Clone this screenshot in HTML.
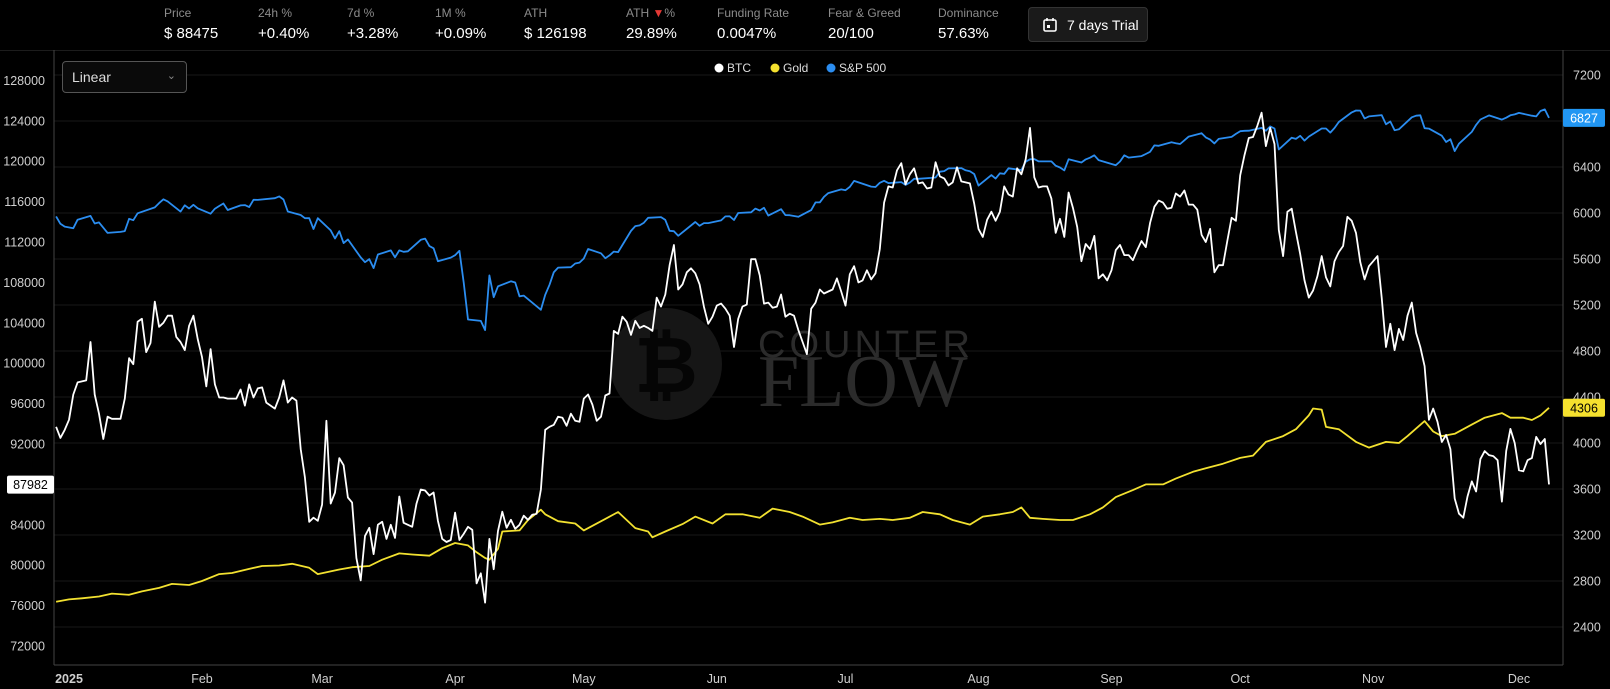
<!DOCTYPE html>
<html><head><meta charset="utf-8">
<style>
html,body{margin:0;padding:0;background:#000;width:1610px;height:689px;overflow:hidden;font-family:"Liberation Sans",sans-serif;}
#hdr{position:absolute;left:0;top:0;width:1610px;height:50px;border-bottom:1px solid #1c1c1c;}
.st{position:absolute;top:6px;}
.st .l{font-size:12px;color:#8c8c8c;}
.st .v{font-size:15px;color:#fff;margin-top:5px;}
#trial{position:absolute;left:1028px;top:7px;width:120px;height:35px;background:#1a1a1a;border:1px solid #333;border-radius:4px;color:#fff;font-size:14px;line-height:35px;box-sizing:border-box;padding-left:38px;}
#sel{position:absolute;left:62px;top:61px;width:125px;height:32px;border:1px solid #555;border-radius:4px;background:#0a0a0a;color:#ddd;font-size:14px;line-height:30px;padding-left:9px;box-sizing:border-box;}
svg{position:absolute;left:0;top:0;}
</style></head><body>
<div id="hdr">
 <div class="st" style="left:164px"><div class="l">Price</div><div class="v">$ 88475</div></div>
 <div class="st" style="left:258px"><div class="l">24h %</div><div class="v">+0.40%</div></div>
 <div class="st" style="left:347px"><div class="l">7d %</div><div class="v">+3.28%</div></div>
 <div class="st" style="left:435px"><div class="l">1M %</div><div class="v">+0.09%</div></div>
 <div class="st" style="left:524px"><div class="l">ATH</div><div class="v">$ 126198</div></div>
 <div class="st" style="left:626px"><div class="l">ATH <span style="color:#e53935">▼</span>%</div><div class="v">29.89%</div></div>
 <div class="st" style="left:717px"><div class="l">Funding Rate</div><div class="v">0.0047%</div></div>
 <div class="st" style="left:828px"><div class="l">Fear &amp; Greed</div><div class="v">20/100</div></div>
 <div class="st" style="left:938px"><div class="l">Dominance</div><div class="v">57.63%</div></div>
 <div id="trial"><svg width="16" height="16" style="left:13px;top:9px" viewBox="0 0 16 16"><rect x="2" y="3" width="12" height="11" rx="1.5" fill="none" stroke="#fff" stroke-width="1.6"/><line x1="5" y1="1" x2="5" y2="4" stroke="#fff" stroke-width="1.6"/><line x1="11" y1="1" x2="11" y2="4" stroke="#fff" stroke-width="1.6"/><rect x="5" y="8" width="3" height="3" fill="#fff"/></svg>7 days Trial</div>
</div>
<svg id="chart" width="1610" height="689"></svg>
<div id="sel">Linear<span style="position:absolute;right:10px;top:-1px;color:#888;font-size:11px">&#8964;</span></div>
<script>
const btcStartDay = -3;
const btcValues = [93.7,92.6,93.4,
94.4,96.9,98.1,98.2,98.3,102.1,96.9,95.0,92.5,94.7,94.5,94.5,94.5,96.5,100.5,99.9,104.1,104.4,101.1,102.0,106.1,103.6,104.0,104.7,104.7,102.6,102.1,101.3,103.7,104.7,102.4,
100.6,97.7,101.4,97.9,96.6,96.6,96.5,96.5,96.5,97.4,95.8,97.9,96.6,97.5,97.6,96.1,95.8,95.5,96.6,98.3,96.1,96.6,96.3,91.5,88.7,84.3,84.7,84.4,
86.0,94.3,86.1,87.2,90.6,89.9,86.7,86.2,80.7,78.5,82.9,83.7,81.1,84.0,84.3,82.6,84.0,82.7,86.8,84.2,84.0,83.8,86.1,87.5,87.4,86.9,87.2,84.4,82.6,82.3,82.5,
85.2,82.5,83.1,83.8,83.5,78.2,79.2,76.3,82.6,79.6,83.4,85.3,83.7,84.5,83.6,84.0,84.9,84.5,85.0,85.1,87.5,93.4,93.7,93.9,94.7,94.6,93.8,95.0,94.3,94.2,
96.5,96.9,95.9,94.3,94.7,96.8,97.0,103.2,102.9,104.6,104.1,102.8,104.2,103.5,103.7,103.5,103.2,106.5,105.6,106.8,109.7,111.7,107.3,107.8,109.0,109.4,108.9,107.8,105.6,103.9,104.6,
105.7,105.9,105.4,104.7,101.6,104.4,105.6,105.8,110.3,110.3,108.7,105.9,106.0,105.5,105.6,106.8,104.6,104.9,104.7,103.3,102.1,100.9,105.4,106.0,107.3,106.9,107.1,107.3,108.4,107.1,
105.7,108.8,109.6,108.0,108.2,109.2,108.3,108.9,111.3,115.9,117.5,117.4,119.1,119.8,117.7,118.7,119.3,117.8,117.9,117.3,117.4,119.9,118.5,118.3,117.6,117.9,119.4,118.0,117.9,117.8,115.8,
113.3,112.5,114.2,115.0,114.1,115.0,117.5,116.7,116.5,119.3,118.7,120.2,123.3,118.4,117.4,117.5,117.5,116.3,112.9,114.3,112.5,116.9,115.4,113.5,110.1,111.8,111.3,112.6,108.4,108.8,108.2,
109.2,111.2,111.7,110.7,110.7,110.2,111.2,112.1,111.5,113.9,115.5,116.1,115.9,115.3,115.4,116.8,116.5,117.1,115.7,115.7,115.2,112.7,112.0,113.3,109.0,109.7,109.7,112.1,114.4,114.1,
118.6,120.6,122.3,122.4,123.5,124.8,121.5,123.3,121.7,113.2,110.6,115.0,115.3,113.0,110.8,108.2,106.5,107.2,108.6,110.6,108.5,107.6,110.1,111.0,111.6,114.5,114.1,112.9,110.0,108.3,109.6,
110.1,110.6,106.5,101.6,103.9,101.3,103.4,102.3,104.7,106.0,103.0,101.6,99.7,94.4,95.5,94.2,92.2,92.9,91.5,86.6,85.1,84.7,86.8,88.3,87.3,90.5,91.3,90.9,90.8,90.4,
86.3,91.3,93.5,92.1,89.4,89.3,90.4,90.6,92.7,92.0,92.5,88.0];
const goldDays = [-3,0,3,7,10,14,17,21,24,28,31,35,38,42,45,49,52,56,58,63,66,70,73,77,80,84,87,90,93,95,97,98,100,101,105,107,110,111,114,118,120,125,128,132,135,136,139,143,146,150,153,157,161,164,168,171,175,178,182,185,189,192,196,199,203,206,210,213,217,220,222,224,227,231,234,238,241,244,248,251,255,258,262,265,269,273,276,279,283,286,289,290,292,293,296,300,303,307,310,312,316,318,320,323,327,330,334,336,339,341,343,345];
const goldValues = [2620,2640,2650,2665,2690,2680,2710,2740,2775,2765,2800,2860,2870,2905,2930,2935,2950,2915,2860,2900,2920,2930,2985,3040,3030,3020,3085,3130,3110,3050,3000,2985,3080,3230,3240,3330,3420,3380,3320,3300,3240,3340,3400,3260,3230,3180,3230,3295,3360,3300,3380,3380,3350,3430,3400,3360,3290,3310,3350,3330,3340,3330,3350,3400,3380,3330,3290,3360,3380,3400,3440,3350,3340,3330,3330,3380,3440,3530,3590,3640,3640,3690,3750,3780,3820,3870,3890,4010,4060,4120,4240,4300,4290,4140,4120,4010,3960,4010,4000,4060,4190,4100,4060,4080,4160,4220,4260,4220,4220,4200,4240,4306];
const spxDays = [-3,-2,-1,1,2,5,6,7,9,12,13,14,15,16,20,21,22,23,26,27,28,29,30,33,34,35,36,37,40,41,42,43,44,48,49,50,51,54,55,56,57,58,61,62,63,64,65,68,69,70,71,72,75,76,77,78,79,82,83,84,85,86,89,90,91,92,93,96,97,98,99,100,103,104,105,106,110,111,112,113,114,117,118,119,120,121,124,125,126,127,128,131,132,133,134,135,138,139,140,141,142,146,147,148,149,152,153,154,155,156,159,160,161,162,163,166,167,168,170,173,174,175,176,177,180,181,182,183,187,188,189,190,191,194,195,196,197,198,201,202,203,204,205,208,209,210,211,212,215,216,217,218,219,222,223,224,225,226,229,230,231,232,233,236,237,238,239,240,244,245,246,247,250,251,252,253,254,257,258,259,260,261,264,265,266,267,268,271,272,273,274,275,278,279,280,281,282,285,286,287,288,289,292,293,294,295,296,299,300,301,302,303,306,307,308,309,310,313,314,315,316,317,320,321,322,323,324,327,328,329,331,334,335,336,337,338,341,342,343,344,345];
const spxValues = [5970,5906,5882,5868,5942,5975,5909,5918,5827,5836,5843,5950,5937,5997,6049,6086,6119,6101,6012,6067,6039,6071,6041,5994,6037,6061,6083,6026,6066,6069,6051,6115,6114,6129,6144,6117,6013,5983,5955,5956,5861,5955,5849,5778,5842,5738,5770,5614,5572,5599,5521,5639,5675,5615,5675,5663,5667,5767,5777,5712,5693,5581,5612,5633,5671,5396,5074,5062,4982,5457,5268,5363,5406,5396,5276,5282,5158,5288,5376,5485,5525,5529,5561,5569,5604,5687,5650,5607,5631,5664,5660,5844,5886,5892,5916,5958,5964,5940,5845,5842,5802,5922,5889,5912,5912,5936,5970,5971,5939,6000,6006,6038,6022,6045,5977,6033,5982,5981,5967,6025,6092,6092,6141,6173,6205,6198,6227,6279,6230,6226,6263,6280,6260,6269,6244,6264,6297,6297,6305,6309,6359,6364,6388,6390,6371,6363,6339,6238,6330,6299,6345,6340,6389,6374,6446,6467,6469,6450,6449,6411,6396,6370,6467,6439,6466,6481,6502,6460,6416,6448,6502,6482,6495,6513,6532,6588,6584,6615,6607,6600,6632,6664,6694,6657,6638,6605,6644,6662,6688,6711,6715,6716,6740,6715,6753,6735,6552,6655,6644,6671,6630,6664,6735,6735,6699,6739,6791,6875,6891,6890,6822,6840,6851,6771,6796,6720,6728,6832,6846,6850,6737,6734,6672,6617,6642,6538,6603,6705,6766,6813,6849,6812,6829,6850,6857,6870,6846,6840,6887,6901,6827];
const leftTicks = [72000,76000,80000,84000,92000,96000,100000,104000,108000,112000,116000,120000,124000,128000];
const rightTicks = [2400,2800,3200,3600,4000,4400,4800,5200,5600,6000,6400,6800,7200];
const monthLabels = ["2025","Feb","Mar","Apr","May","Jun","Jul","Aug","Sep","Oct","Nov","Dec"];
const monthDays = [0,31,59,90,120,151,181,212,243,273,304,338];
const btcLast = 87982, goldLast = 4306, spxLast = 6827;

const NS="http://www.w3.org/2000/svg";
const svg=document.getElementById('chart');
const X0=54,X1=1563,Y0=50,Y1=665;
function xOf(d){return 69+d*4.29;}
function yL(v){return 646-(v-72000)/4000*40.4;}
function yR(v){return 443-(v-4000)*0.115;}
function mk(tag,attrs,parent){const e=document.createElementNS(NS,tag);for(const k in attrs)e.setAttribute(k,attrs[k]);(parent||svg).appendChild(e);return e;}

const defs=mk('defs',{});
const cp=mk('clipPath',{id:'plotclip'},defs);
mk('rect',{x:X0,y:Y0,width:X1-X0,height:Y1-Y0},cp);

rightTicks.forEach(t=>{
  const g=mk('line',{x1:X0,x2:X1,y1:yR(t),y2:yR(t),stroke:'#171717','stroke-width':1});
  
  
});

const wm=mk('g',{});


mk('circle',{cx:666,cy:364,r:56,fill:'#161616'},wm);
const bt=mk('text',{x:666,y:392,'text-anchor':'middle','font-size':78,'font-weight':'bold','font-family':'Liberation Sans, sans-serif',fill:'#050505'},wm);bt.textContent='₿';
const t1=mk('text',{x:758,y:357,'font-size':38,'font-family':'Liberation Sans, sans-serif',fill:'#2b2b2b','letter-spacing':'4'},wm);t1.textContent='COUNTER';
const t2=mk('text',{x:758,y:406,'font-size':74,'font-family':'Liberation Serif, serif',fill:'#2b2b2b'},wm);t2.textContent='FLOW';

const la=mk('line',{x1:X0,x2:X0,y1:Y0,y2:Y1,stroke:'#444','stroke-width':1});


const ra=mk('line',{x1:X1,x2:X1,y1:Y0,y2:Y1,stroke:'#444','stroke-width':1});


const ba=mk('line',{x1:X0,x2:X1,y1:Y1,y2:Y1,stroke:'#444','stroke-width':1});



leftTicks.forEach(t=>{
  const e=mk('text',{x:45,y:yL(t)+4.5,'text-anchor':'end','font-size':12.5,fill:'#cfcfcf'});
  e.textContent=t;
  
  
});
rightTicks.forEach(t=>{
  const e=mk('text',{x:1573,y:yR(t)+4.5,'font-size':12.5,fill:'#cfcfcf'});
  e.textContent=t;
  
  
});
monthLabels.forEach((m,i)=>{
  const e=mk('text',{x:xOf(monthDays[i]),y:683,'text-anchor':'middle','font-size':12.5,fill:'#cfcfcf','font-weight':i==0?'bold':'normal'});
  e.textContent=m;
  
  
});

function line(days,vals,yf,color,name){
  let d='';
  vals.forEach((v,i)=>{d+=(i?'L':'M')+xOf(days[i]).toFixed(1)+','+yf(v).toFixed(1);});
  const p=mk('path',{d:d,fill:'none',stroke:color,'stroke-width':1.8,'stroke-linejoin':'round','clip-path':'url(#plotclip)'});
  
  
}
line(spxDays,spxValues,yR,'#2b8df0','sp500-line');
line(goldDays,goldValues,yR,'#f2e130','gold-line');
const btcDays=btcValues.map((v,i)=>btcStartDay+i);
line(btcDays,btcValues.map(v=>v*1000),yL,'#ffffff','btc-line');

function tag(x,y,w,bg,fg,txt,name){
  const g=mk('g',{});
  
  
  mk('rect',{x:x,y:y-9,width:w,height:18,rx:2,fill:bg},g);
  const t=mk('text',{x:x+w/2,y:y+4.5,'text-anchor':'middle','font-size':12.5,fill:fg},g);
  t.textContent=txt;
}
tag(7,yL(btcLast),47,'#ffffff','#000',btcLast,'btc-last-value-label');
tag(1563,yR(goldLast),42,'#f5e12e','#000',goldLast,'gold-last-value-label');
tag(1563,yR(spxLast),42,'#2196f3','#fff',spxLast,'sp500-last-value-label');

const leg=[['BTC','#ffffff',719],['Gold','#f5e12e',775],['S&P 500','#2b8df0',831]];
leg.forEach(l=>{
  const g=mk('g',{});
  
  
  mk('circle',{cx:l[2],cy:68,r:4.5,fill:l[1]},g);
  const t=mk('text',{x:l[2]+8,y:72,'font-size':12,fill:'#ddd'},g);
  t.textContent=l[0];
});
</script>
</body></html>
